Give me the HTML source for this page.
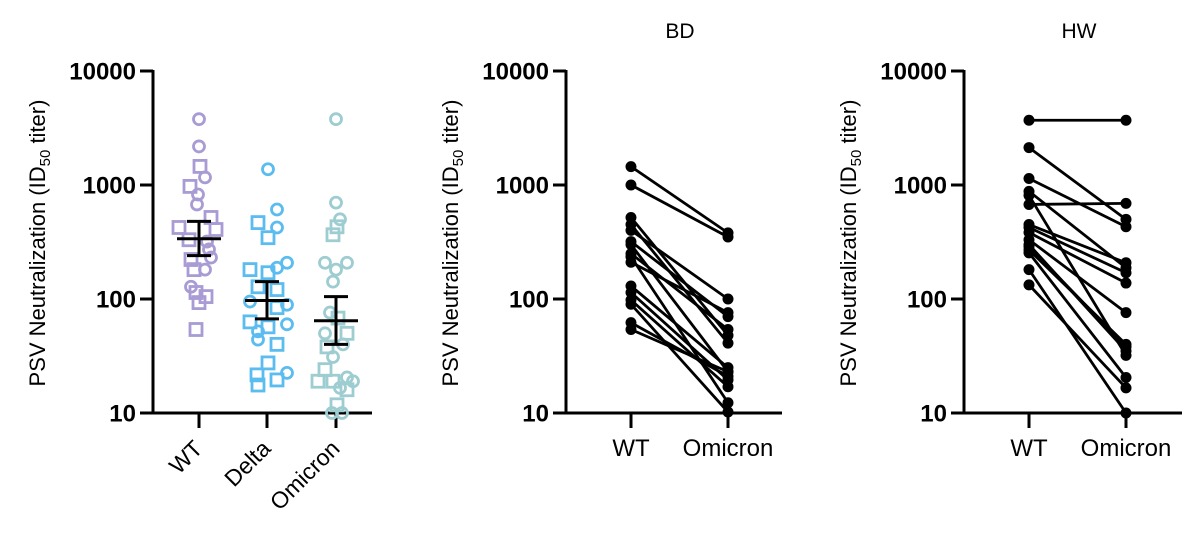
<!DOCTYPE html>
<html><head><meta charset="utf-8"><style>
html,body{margin:0;padding:0;background:#fff;}
svg{display:block;font-family:"Liberation Sans",Arial,sans-serif;}
</style></head><body>
<svg id="chart" width="1200" height="537" viewBox="0 0 1200 537"></svg>
<script>
// ---- data ----
const tickValues = [10, 100, 1000, 10000];
const tickLabels = ["10", "100", "1000", "10000"];
const groupCats = ["WT", "Delta", "Omicron"];
const groupColors = ["#a99bd4", "#5bbcf0", "#9dcdd0"];
const wtVals = [3780,2180,1456,1166,972,826,675,519,424,407,331,319,272,231,222,181,181,128,114,105,93,54];
const wtShape = ["c","c","s","c","s","c","c","s","s","s","s","c","c","c","s","s","c","c","s","s","s","s"];
const wtOff = [0,0,1,6,-9,-1,-2,12,-20,17,-10,8,10,12,-8,-5,6,-8,-3,7,0,-3];
const deltaVals = [1375,468,610,424,345,181,208,188,170,128,121,95,89,84,63,60,52,57,44,40,27.5,21.6,22.5,19.5,17.6];
const deltaShape = ["c","s","c","c","s","s","c","c","s","s","s","c","c","s","s","c","c","s","c","s","s","s","c","s","s"];
const deltaOff = [1,-9,10,10,1,-17,20,10,1,-9,10,-17,20,10,-17,20,-9,1,-9,10,1,-10,20,10,-9];
const omiVals = [3780,700,500,430,366,208,208,181,142,76,68,50,50,38,40,31,24,19,20.5,19,19,16,16.6,11.8,10,10];
const omiShape = ["c","c","c","s","s","c","c","c","c","c","s","s","c","s","c","c","s","s","c","s","c","s","c","s","c","c"];
const omiOff = [0,0,4,1,-3,-11,11,0,-3,-6,2,11,-11,-9,7,-3,-11,-18,11,-3,17,11,4,1,-4,6];
const groupMeans = [338, 97, 64.5];
const groupLow = [240, 67, 40];
const groupHigh = [480, 142, 105];
const pairCats = ["WT", "Omicron"];
const bdWT = [1450,1000,519,450,400,319,300,250,235,210,130,114,98,90,62,54];
const bdOmi = [380,350,48,41,100,70,23,54,12.3,76,25,19.5,17,10.2,21,23];
const hwWT = [3700,2130,1140,880,675,810,450,424,383,331,289,254,181,133,300,270];
const hwOmi = [3700,500,430,188,690,32,208,170,138,76,38,20.5,10,16.6,35,40];

const NS = "http://www.w3.org/2000/svg";
const svg = document.getElementById("chart");
function mk(tag, attrs, parent, txt) {
  const e = document.createElementNS(NS, tag);
  for (const k in attrs) e.setAttribute(k, attrs[k]);
  if (txt !== undefined) e.textContent = txt;
  (parent || svg).appendChild(e);
  return e;
}
const yTop = 71, yBot = 413;
function yScale(v) { return yBot - (Math.log10(v) - 1) / 3 * (yBot - yTop); }

function axes(g, ax, axEnd, xTicks, name) {
  const a = mk("line", {x1: ax, y1: yTop - 1, x2: ax, y2: yBot + 1.5, stroke: "#000", "stroke-width": 3}, g);
  
  
  const b = mk("line", {x1: ax - 1.5, y1: yBot, x2: axEnd, y2: yBot, stroke: "#000", "stroke-width": 3}, g);
  
  
  tickValues.forEach((v, i) => {
    const y = yScale(v);
    mk("line", {x1: ax - 13, y1: y, x2: ax, y2: y, stroke: "#000", "stroke-width": 3}, g);
    const t = mk("text", {x: ax - 17, y: y + 8.5, "text-anchor": "end", "font-size": 24, "font-weight": "bold"}, g, tickLabels[i]);
    
    
  });
  xTicks.forEach(x => mk("line", {x1: x, y1: yBot, x2: x, y2: yBot + 15, stroke: "#000", "stroke-width": 3}, g));
  const tt = mk("text", {transform: `translate(${ax - 108},243) rotate(-90)`, "text-anchor": "middle", "font-size": 22}, g);
  
  
  mk("tspan", {}, tt, "PSV Neutralization (ID");
  mk("tspan", {"font-size": 15, dy: 5}, tt, "50");
  mk("tspan", {dy: -5}, tt, " titer)");
}

// ---- Panel 1 ----
const g1 = mk("g", {});  
const gx = [199, 267, 336];
axes(g1, 153, 372, gx, "groups");
const sets = [[wtVals, wtShape, wtOff], [deltaVals, deltaShape, deltaOff], [omiVals, omiShape, omiOff]];
sets.forEach((s, gi) => {
  s[0].forEach((v, i) => {
    const x = gx[gi] + s[2][i], y = yScale(v);
    let m;
    if (s[1][i] === "c") m = mk("circle", {cx: x, cy: y, r: 5.5, fill: "none", stroke: groupColors[gi], "stroke-width": 2.8}, g1);
    else m = mk("rect", {x: x - 6, y: y - 6, width: 12, height: 12, fill: "none", stroke: groupColors[gi], "stroke-width": 2.8}, g1);
    
    
  });
});
gx.forEach((x, gi) => {
  const ym = yScale(groupMeans[gi]), yl = yScale(groupLow[gi]), yh = yScale(groupHigh[gi]);
  const e = mk("g", {stroke: "#000", "stroke-width": 3}, g1);
  
  
  mk("line", {x1: x - 22, y1: ym, x2: x + 22, y2: ym}, e);
  mk("line", {x1: x, y1: yl, x2: x, y2: yh}, e);
  mk("line", {x1: x - 12, y1: yl, x2: x + 12, y2: yl}, e);
  mk("line", {x1: x - 12, y1: yh, x2: x + 12, y2: yh}, e);
  const t = mk("text", {transform: `translate(${x + 5},${450}) rotate(-45)`, "text-anchor": "end", "font-size": 23}, g1, groupCats[gi]);
  
  
});

// ---- Paired panels ----
function paired(ax, axEnd, title, wt, om, name) {
  const g = mk("g", {});  
  const px = [ax + 65, ax + 162];
  axes(g, ax, axEnd, px, name);
  const t = mk("text", {x: (ax + axEnd) / 2 + 6, y: 38, "text-anchor": "middle", "font-size": 21}, g, title);
  
  
  pairCats.forEach((c, i) => {
    const l = mk("text", {x: px[i], y: 456, "text-anchor": "middle", "font-size": 24}, g, c);
    
    
  });
  wt.forEach((v, i) => {
    const ln = mk("line", {x1: px[0], y1: yScale(v), x2: px[1], y2: yScale(om[i]), stroke: "#000", "stroke-width": 2.8}, g);
    
    
  });
  wt.forEach((v, i) => {
    const a = mk("circle", {cx: px[0], cy: yScale(v), r: 5.5, fill: "#000"}, g);
    
    
    const b = mk("circle", {cx: px[1], cy: yScale(om[i]), r: 5.5, fill: "#000"}, g);
    
    
  });
}
paired(566, 782, "BD", bdWT, bdOmi, "bd");
paired(964, 1182, "HW", hwWT, hwOmi, "hw");
</script>
</body></html>
